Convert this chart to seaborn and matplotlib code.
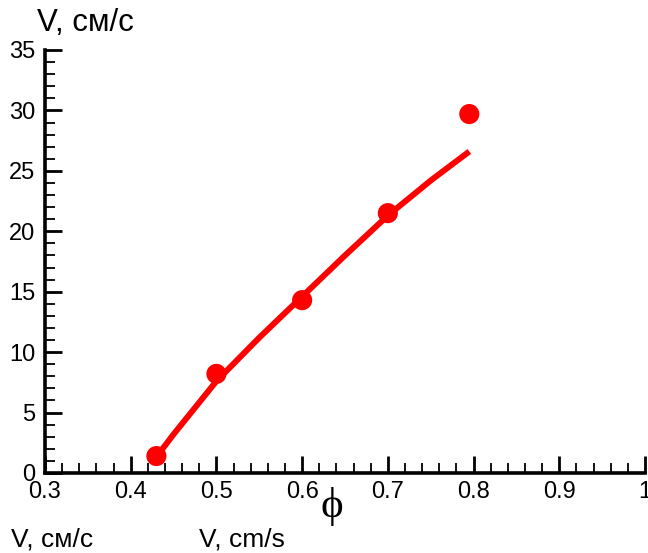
import numpy as np
import pandas as pd
import matplotlib
matplotlib.use("Agg")
import matplotlib.pyplot as plt
import seaborn as sns
from matplotlib.ticker import MultipleLocator

# experimental points
phi_pts = [0.43, 0.50, 0.60, 0.70, 0.795]
v_pts = [1.4, 8.2, 14.3, 21.5, 29.7]

# fitted curve
phi_curve = [0.435, 0.45, 0.475, 0.50, 0.55, 0.60, 0.65, 0.70, 0.75, 0.795]
v_curve = [1.8, 3.2, 5.4, 7.6, 11.2, 14.6, 18.0, 21.3, 24.2, 26.6]

x_ticks = [0.3, 0.4, 0.5, 0.6, 0.7, 0.8, 0.9, 1.0]
x_labels = ["0.3", "0.4", "0.5", "0.6", "0.7", "0.8", "0.9", "1"]
y_ticks = [0, 5, 10, 15, 20, 25, 30, 35]

sns.set_style("ticks")
plt.rcParams["font.family"] = ["Liberation Sans", "DejaVu Sans"]
plt.rcParams["text.color"] = "black"
plt.rcParams["xtick.color"] = "black"
plt.rcParams["ytick.color"] = "black"

fig = plt.figure(figsize=(6.48, 5.53), dpi=100)
ax = fig.add_axes([0.0694, 0.1447, 0.926, 0.7649])

curve = pd.DataFrame({"phi": phi_curve, "V": v_curve})
pts = pd.DataFrame({"phi": phi_pts, "V": v_pts})

sns.lineplot(data=curve, x="phi", y="V", ax=ax, color="#ff0000", lw=4.3,
             sort=False, clip_on=False, solid_capstyle="butt",
             solid_joinstyle="round")
sns.scatterplot(data=pts, x="phi", y="V", ax=ax, color="#ff0000", s=210,
                edgecolor="none", clip_on=False, zorder=5)

ax.set_xlim(0.3, 1.0)
ax.set_ylim(0, 35)
ax.set_xticks(x_ticks)
ax.set_xticklabels(x_labels)
ax.set_yticks(y_ticks)
ax.xaxis.set_minor_locator(MultipleLocator(0.02))
ax.yaxis.set_minor_locator(MultipleLocator(1))
ax.tick_params(which="major", direction="in", length=12, width=2,
               labelsize=17, color="black", labelcolor="black")
ax.tick_params(which="minor", direction="in", length=7, width=1.3, color="black")
ax.tick_params(axis="x", which="major", pad=6)
ax.tick_params(axis="y", which="major", pad=7)
for s in ["top", "right"]:
    ax.spines[s].set_visible(False)
for s in ["left", "bottom"]:
    ax.spines[s].set_linewidth(2.6)
    ax.spines[s].set_color("black")
ax.set_xlabel("")
ax.set_ylabel("")

fig.text(37 / 648, 1 - 23 / 553, "V, см/с", fontsize=22.5, ha="left", va="center",
         color="black")
fig.text(332 / 648, 1 - 507 / 553, "ϕ", fontsize=31, ha="center", va="center",
         family=["Liberation Serif", "DejaVu Serif"], color="black")
fig.text(11 / 648, 1 - 539 / 553, "V, см/с", fontsize=19, ha="left", va="center",
         color="black")
fig.text(199 / 648, 1 - 539 / 553, "V, cm/s", fontsize=19, ha="left", va="center",
         color="black")

fig.savefig("out.png", dpi=100)
